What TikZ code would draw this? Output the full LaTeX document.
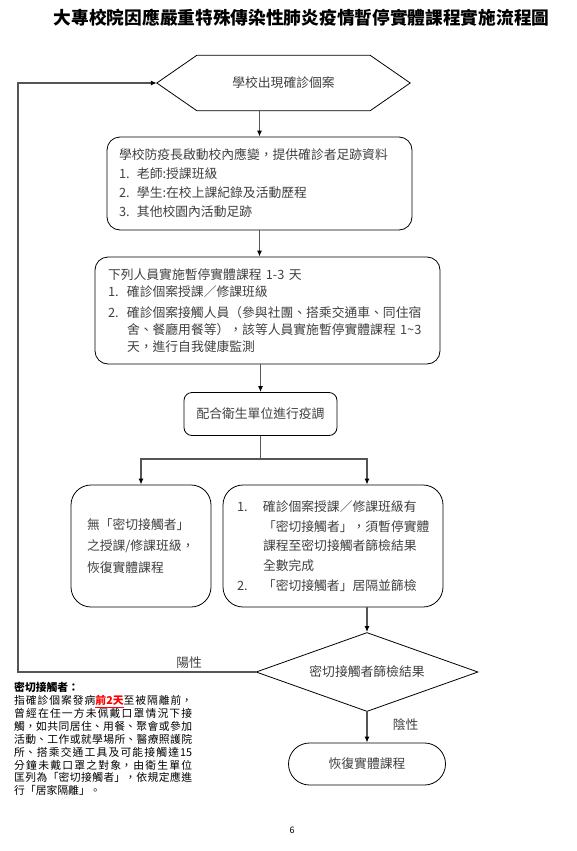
\documentclass[tikz,border=0pt]{standalone}
\usepackage{fontspec}
\setmainfont{Noto Sans CJK TC}
\usetikzlibrary{shapes.geometric,arrows.meta,calc}
\XeTeXlinebreaklocale "zh"
\XeTeXlinebreakskip=0pt plus 1pt
\definecolor{txt}{RGB}{64,64,64}
\definecolor{linegray}{RGB}{85,85,85}

\begin{document}
\begin{tikzpicture}[x=1pt, y=-1pt,
    box/.style = {draw, line width=0.8pt, rounded corners=13pt, text=txt, align=left,
                  font=\fontsize{12.8}{19}\selectfont, inner xsep=12pt, inner ysep=0pt},
    hexnode/.style = {minimum width=253pt, minimum height=55pt, inner sep=0pt, text=txt,
                      font=\fontsize{12.8}{15}\selectfont},
    decision/.style = {draw, diamond, aspect=2.81, minimum width=222pt, minimum height=79pt,
                       inner sep=0pt, line width=0.8pt, text=txt, font=\fontsize{12.8}{15}\selectfont},
    terminal/.style = {draw, rounded corners=21pt, minimum width=157pt, minimum height=42pt,
                       line width=0.8pt, text=txt, font=\fontsize{12.8}{15}\selectfont},
    note/.style = {text width=178pt, align=justify, inner sep=0pt, font=\fontsize{10.8}{12.9}\selectfont},
    conn/.style = {draw=linegray, line width=1.2pt},
    connarrow/.style = {conn, -{Latex[length=6pt, width=5pt, color=black]}},
    lbl/.style = {text=txt, font=\fontsize{12.8}{15}\selectfont}]
    \useasboundingbox (0,0) rectangle (576,851);

    % title
    \node[anchor=east, font=\fontsize{17.7}{20}\selectfont\bfseries] (title) at (553,18)
        {大專校院因應嚴重特殊傳染性肺炎疫情暫停實體課程實施流程圖};

    % start
    \node[hexnode] (hex) at (283.5,83) {學校出現確診個案};
    \draw[line width=0.8pt] (hex.west) -- ($(hex.north west)+(40,0)$) -- ($(hex.north east)+(-40,0)$)
        -- (hex.east) -- ($(hex.south east)+(-40,0)$) -- ($(hex.south west)+(40,0)$) -- cycle;

    \node[box, text width=281pt, minimum height=93pt] (box1) at (259.5,183.5)
        {學校防疫長啟動校內應變，提供確診者足跡資料\\
         \makebox[18pt][l]{1.}老師:授課班級\\
         \makebox[18pt][l]{2.}學生:在校上課紀錄及活動歷程\\
         \makebox[18pt][l]{3.}其他校園內活動足跡};

    \node[box, text width=319pt, inner xsep=13pt, minimum height=107pt,
          font=\fontsize{12.8}{17}\selectfont] (box2) at (267.5,310.5)
        {下列人員實施暫停實體課程 1-3 天\\
         \makebox[19pt][l]{1.}確診個案授課／修課班級\\[4pt]
         \makebox[19pt][l]{2.}確診個案接觸人員（參與社團、搭乘交通車、同住宿\\
         \hspace*{19pt}舍、餐廳用餐等），該等人員實施暫停實體課程 1\textasciitilde 3\\
         \hspace*{19pt}天，進行自我健康監測};

    \node[box, rounded corners=8pt, align=center, minimum width=153pt, minimum height=43pt]
        (box3) at (260.5,414) {配合衛生單位進行疫調};

    \node[box, rounded corners=20pt, text width=108pt, inner xsep=16pt, minimum height=122pt,
          font=\fontsize{12.8}{21.5}\selectfont] (box4) at (141,546)
        {無「密切接觸者」\\ 之授課/修課班級，\\ 恢復實體課程};

    \node[box, rounded corners=20pt, text width=200pt, inner xsep=10pt, minimum height=122pt,
          font=\fontsize{12.8}{19.7}\selectfont] (box5) at (333,546)
        {\hspace*{4pt}\makebox[26pt][l]{1.}確診個案授課／修課班級有\\
         \hspace*{30pt}「密切接觸者」，須暫停實體\\
         \hspace*{30pt}課程至密切接觸者篩檢結果\\
         \hspace*{30pt}全數完成\\
         \hspace*{4pt}\makebox[26pt][l]{2.}「密切接觸者」居隔並篩檢};

    \node[decision] (dia) at (367,672) {密切接觸者篩檢結果};
    \node[terminal] (term) at (367,764) {恢復實體課程};

    % note
    \node[note, anchor=north west] (note) at (14,682)
        {{\bfseries 密切接觸者：}\par
         指確診個案發病{\color{red}\bfseries\underline{前2天}}至被隔離前，\linebreak
         曾經在任一方未佩戴口罩情況下接\linebreak
         觸，如共同居住、用餐、聚會或參加\linebreak
         活動、工作或就學場所、醫療照護院\linebreak
         所、搭乘交通工具及可能接觸達15\linebreak
         分鐘未戴口罩之對象，由衛生單位\linebreak
         匡列為「密切接觸者」，依規定應進\linebreak
         行「居家隔離」。};

    \node[font=\fontsize{9}{10}\selectfont] (pagenum) at (292,830) {6};

    % connectors
    \coordinate (split) at ($(box3.south)+(0,23)$);
    \coordinate (loop) at (18,672);
    \draw[connarrow] (hex.south -| box1.north) -- (box1.north);
    \draw[connarrow] (box1.south) -- (box1.south |- box2.north);
    \draw[connarrow] (box2.south -| box3.north) -- (box3.north);
    \draw[conn] (box3.south) -- (split);
    \draw[connarrow] (split) -| (box4.north);
    \draw[connarrow] (split) -| (dia.north |- box5.north);
    \draw[connarrow] (dia.north |- box5.south) -- (dia.north);
    \draw[connarrow] (dia.south) -- node[lbl, right=22pt, pos=0.4] {陰性} (term.north);
    \draw[connarrow] (dia.west) -- node[lbl, above, pos=0.28] {陽性} (loop) |- (hex.west);
\end{tikzpicture}
\end{document}
